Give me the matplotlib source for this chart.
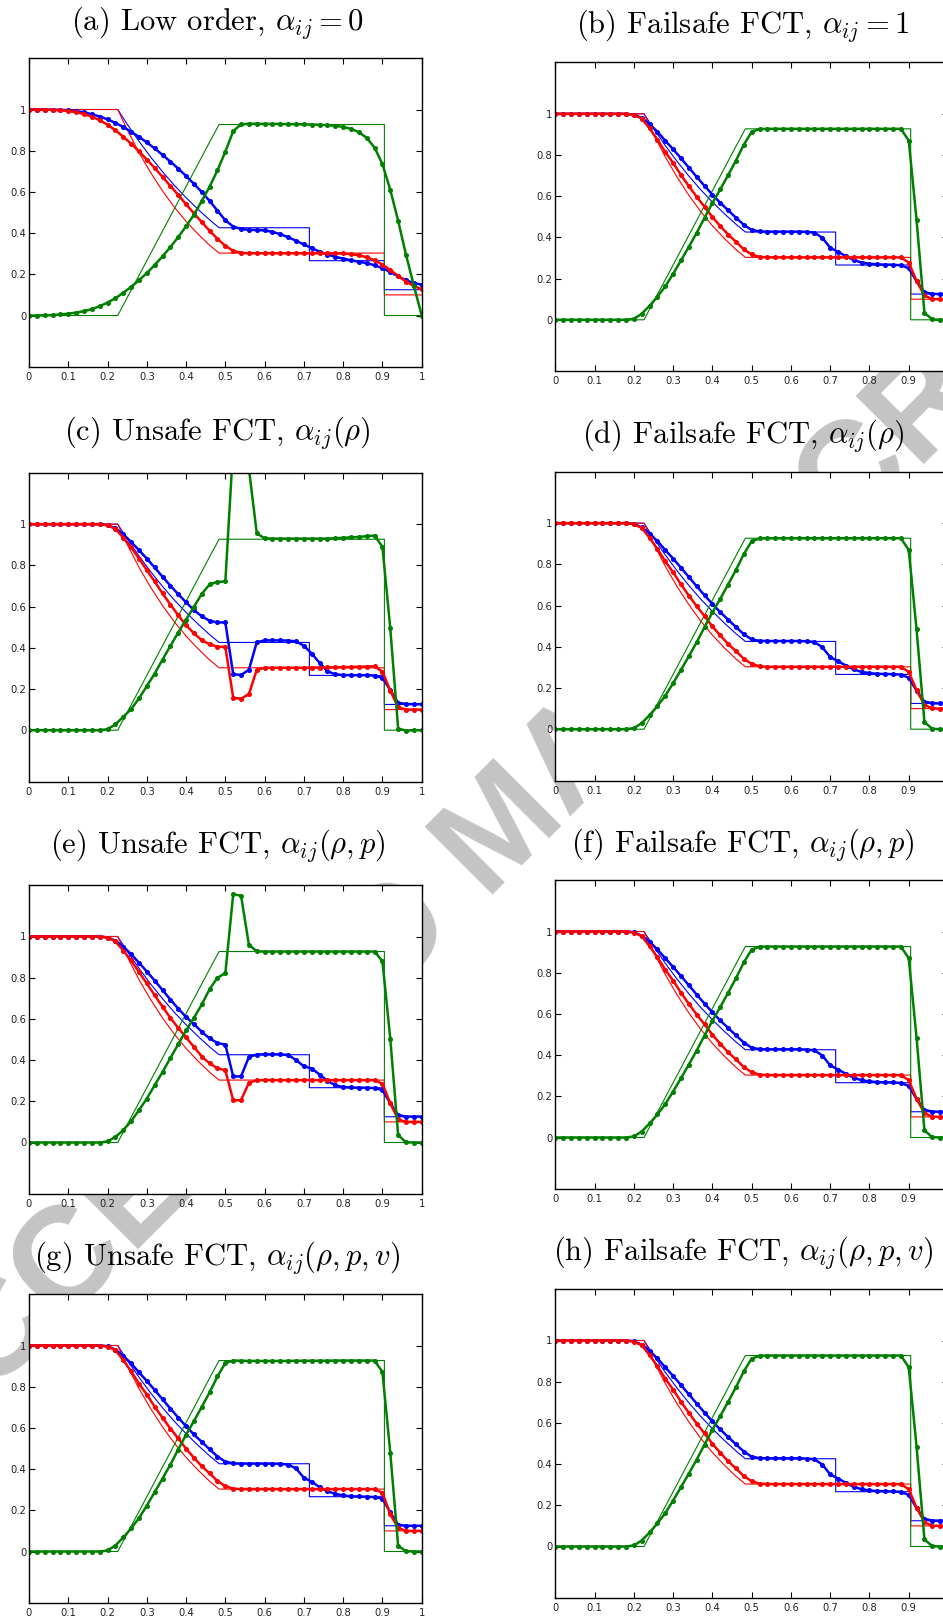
import numpy as np
import matplotlib
matplotlib.use('Agg')
import matplotlib.pyplot as plt

plt.rcParams['mathtext.fontset'] = 'cm'

# grid points of the numerical solutions
x = np.arange(0, 1.0001, 0.02)

# exact Riemann solution (thin lines)
x_ex = [0.0, 0.226, 0.25, 0.28, 0.31, 0.34, 0.37, 0.40, 0.43, 0.46, 0.484,
        0.714, 0.714, 0.905, 0.905, 1.0]
rho_ex = [1.0, 1.0, 0.929, 0.846, 0.769, 0.698, 0.632, 0.572, 0.516, 0.464, 0.426,
          0.426, 0.266, 0.266, 0.125, 0.125]
p_ex = [1.0, 1.0, 0.902, 0.791, 0.693, 0.605, 0.526, 0.457, 0.396, 0.341, 0.303,
        0.303, 0.303, 0.303, 0.100, 0.100]
u_ex = [0.0, 0.0, 0.087, 0.194, 0.302, 0.410, 0.518, 0.626, 0.734, 0.842, 0.927,
        0.927, 0.927, 0.927, 0.0, 0.0]

# (a) low order
rho_a = [1.000, 1.000, 1.000, 0.999, 0.998, 0.996, 0.992, 0.986, 0.977, 0.966,
         0.952, 0.935, 0.915, 0.892, 0.867, 0.840, 0.811, 0.780, 0.747, 0.713,
         0.677, 0.639, 0.599, 0.556, 0.509, 0.462, 0.432, 0.420, 0.416, 0.415,
         0.413, 0.406, 0.395, 0.380, 0.363, 0.345, 0.327, 0.310, 0.296, 0.285,
         0.276, 0.268, 0.261, 0.254, 0.244, 0.230, 0.211, 0.190, 0.171, 0.157,
         0.150]
p_a = [1.000, 1.000, 0.999, 0.998, 0.996, 0.993, 0.987, 0.978, 0.965, 0.948,
       0.926, 0.899, 0.868, 0.834, 0.797, 0.757, 0.716, 0.673, 0.629, 0.585,
       0.540, 0.496, 0.453, 0.411, 0.372, 0.338, 0.314, 0.304, 0.302, 0.302,
       0.302, 0.302, 0.302, 0.302, 0.302, 0.302, 0.302, 0.302, 0.302, 0.302,
       0.301, 0.298, 0.292, 0.283, 0.268, 0.247, 0.221, 0.192, 0.165, 0.143,
       0.128]
u_a = [0.000, 0.000, 0.001, 0.002, 0.005, 0.009, 0.014, 0.021, 0.031, 0.045,
       0.063, 0.084, 0.110, 0.139, 0.171, 0.206, 0.245, 0.287, 0.332, 0.381,
       0.433, 0.489, 0.556, 0.626, 0.705, 0.795, 0.895, 0.928, 0.931, 0.931,
       0.930, 0.930, 0.930, 0.929, 0.929, 0.928, 0.927, 0.926, 0.924, 0.921,
       0.915, 0.906, 0.890, 0.862, 0.815, 0.735, 0.610, 0.460, 0.295, 0.145,
       0.000]

# failsafe FCT (b), (d), (f), (h) look the same
rho_fs = [1.000, 1.000, 1.000, 1.000, 1.000, 1.000, 1.000, 1.000, 1.000, 1.000,
          0.996, 0.980, 0.950, 0.913, 0.870, 0.828, 0.784, 0.739, 0.694, 0.650,
          0.608, 0.568, 0.532, 0.496, 0.461, 0.436, 0.429, 0.428, 0.428, 0.428,
          0.428, 0.428, 0.427, 0.423, 0.398, 0.350, 0.330, 0.309, 0.290, 0.278,
          0.272, 0.269, 0.268, 0.267, 0.265, 0.250, 0.187, 0.134, 0.126, 0.125,
          0.125]
p_fs = [1.000, 1.000, 1.000, 1.000, 1.000, 1.000, 1.000, 1.000, 1.000, 1.000,
        0.995, 0.977, 0.929, 0.875, 0.815, 0.762, 0.703, 0.649, 0.597, 0.549,
        0.499, 0.455, 0.414, 0.379, 0.342, 0.317, 0.305, 0.303, 0.303, 0.303,
        0.303, 0.303, 0.303, 0.303, 0.303, 0.303, 0.303, 0.303, 0.303, 0.303,
        0.303, 0.303, 0.303, 0.303, 0.303, 0.278, 0.188, 0.118, 0.101, 0.100,
        0.100]
u_fs = [0.000, 0.000, 0.000, 0.000, 0.000, 0.000, 0.000, 0.000, 0.000, 0.000,
        0.005, 0.029, 0.068, 0.112, 0.162, 0.223, 0.288, 0.354, 0.422, 0.495,
        0.567, 0.633, 0.702, 0.773, 0.850, 0.912, 0.926, 0.927, 0.927, 0.927,
        0.927, 0.927, 0.927, 0.927, 0.927, 0.927, 0.927, 0.927, 0.927, 0.927,
        0.927, 0.927, 0.927, 0.927, 0.927, 0.870, 0.484, 0.034, 0.002, 0.000,
        0.000]

# (c) unsafe FCT, alpha(rho)
rho_c = [1.000, 1.000, 1.000, 1.000, 1.000, 1.000, 1.000, 1.000, 1.000, 1.000,
         0.995, 0.980, 0.951, 0.914, 0.874, 0.833, 0.790, 0.745, 0.702, 0.660,
         0.621, 0.583, 0.553, 0.531, 0.523, 0.523, 0.272, 0.268, 0.293, 0.427,
         0.436, 0.436, 0.436, 0.435, 0.431, 0.410, 0.372, 0.327, 0.286, 0.271,
         0.268, 0.267, 0.267, 0.267, 0.265, 0.254, 0.194, 0.133, 0.127, 0.126,
         0.126]
p_c = [1.000, 1.000, 1.000, 1.000, 1.000, 1.000, 1.000, 1.000, 1.000, 1.000,
       0.995, 0.977, 0.935, 0.888, 0.833, 0.777, 0.722, 0.664, 0.610, 0.558,
       0.510, 0.470, 0.437, 0.417, 0.405, 0.405, 0.157, 0.153, 0.175, 0.293,
       0.303, 0.303, 0.303, 0.303, 0.303, 0.303, 0.304, 0.304, 0.305, 0.305,
       0.306, 0.307, 0.308, 0.309, 0.310, 0.284, 0.192, 0.112, 0.100, 0.100,
       0.100]
u_c = [0.000, 0.000, 0.000, 0.000, 0.000, 0.000, 0.000, 0.000, 0.000, 0.000,
       0.005, 0.028, 0.065, 0.102, 0.154, 0.214, 0.275, 0.343, 0.409, 0.474,
       0.537, 0.599, 0.662, 0.708, 0.720, 0.722, 1.380, 1.420, 1.270, 0.956,
       0.931, 0.930, 0.930, 0.930, 0.930, 0.930, 0.930, 0.930, 0.930, 0.932,
       0.934, 0.936, 0.938, 0.942, 0.945, 0.890, 0.494, 0.008, -0.002, 0.000,
       0.000]

# (e) unsafe FCT, alpha(rho, p)
rho_e = [1.000, 1.000, 1.000, 1.000, 1.000, 1.000, 1.000, 1.000, 1.000, 1.000,
         0.995, 0.980, 0.951, 0.914, 0.873, 0.830, 0.786, 0.740, 0.694, 0.650,
         0.609, 0.575, 0.537, 0.505, 0.483, 0.475, 0.321, 0.321, 0.415, 0.427,
         0.428, 0.428, 0.428, 0.425, 0.400, 0.370, 0.359, 0.330, 0.299, 0.278,
         0.269, 0.267, 0.266, 0.266, 0.264, 0.255, 0.190, 0.133, 0.126, 0.126,
         0.126]
p_e = [1.000, 1.000, 1.000, 1.000, 1.000, 1.000, 1.000, 1.000, 1.000, 1.000,
       0.995, 0.976, 0.932, 0.884, 0.828, 0.772, 0.715, 0.659, 0.605, 0.556,
       0.510, 0.464, 0.417, 0.384, 0.360, 0.351, 0.205, 0.205, 0.290, 0.302,
       0.303, 0.303, 0.303, 0.303, 0.303, 0.303, 0.303, 0.303, 0.303, 0.303,
       0.303, 0.303, 0.303, 0.303, 0.303, 0.285, 0.190, 0.112, 0.100, 0.100,
       0.100]
u_e = [0.000, 0.000, 0.000, 0.000, 0.000, 0.000, 0.000, 0.000, 0.000, 0.000,
       0.005, 0.027, 0.060, 0.103, 0.157, 0.213, 0.278, 0.342, 0.410, 0.477,
       0.544, 0.605, 0.670, 0.745, 0.800, 0.822, 1.205, 1.198, 0.960, 0.928,
       0.927, 0.927, 0.927, 0.927, 0.927, 0.927, 0.927, 0.927, 0.927, 0.927,
       0.927, 0.927, 0.927, 0.927, 0.927, 0.880, 0.504, 0.036, 0.001, 0.000,
       0.000]

# (g) unsafe FCT, alpha(rho, p, v)
rho_g = [1.000, 1.000, 1.000, 1.000, 1.000, 1.000, 1.000, 1.000, 1.000, 1.000,
         0.996, 0.980, 0.950, 0.913, 0.870, 0.828, 0.784, 0.739, 0.694, 0.650,
         0.608, 0.568, 0.532, 0.496, 0.461, 0.436, 0.428, 0.427, 0.427, 0.427,
         0.427, 0.427, 0.426, 0.422, 0.403, 0.358, 0.339, 0.312, 0.292, 0.280,
         0.272, 0.268, 0.267, 0.266, 0.264, 0.257, 0.190, 0.130, 0.125, 0.125,
         0.125]
p_g = [1.000, 1.000, 1.000, 1.000, 1.000, 1.000, 1.000, 1.000, 1.000, 1.000,
       0.995, 0.977, 0.929, 0.875, 0.815, 0.762, 0.703, 0.649, 0.597, 0.549,
       0.499, 0.455, 0.414, 0.379, 0.342, 0.317, 0.305, 0.303, 0.303, 0.303,
       0.303, 0.303, 0.303, 0.303, 0.303, 0.303, 0.303, 0.303, 0.303, 0.303,
       0.303, 0.303, 0.303, 0.303, 0.303, 0.285, 0.180, 0.115, 0.100, 0.100,
       0.100]
u_g = [0.000, 0.000, 0.000, 0.000, 0.000, 0.000, 0.000, 0.000, 0.000, 0.000,
       0.005, 0.029, 0.068, 0.112, 0.162, 0.223, 0.288, 0.354, 0.422, 0.495,
       0.567, 0.633, 0.702, 0.773, 0.850, 0.915, 0.927, 0.926, 0.925, 0.925,
       0.925, 0.925, 0.925, 0.925, 0.926, 0.926, 0.926, 0.926, 0.926, 0.927,
       0.927, 0.927, 0.927, 0.927, 0.927, 0.871, 0.479, 0.027, 0.002, 0.000,
       0.000]

titles = [r'(a) Low order, $\alpha_{ij} = 0$',
          r'(b) Failsafe FCT, $\alpha_{ij} = 1$',
          r'(c) Unsafe FCT, $\alpha_{ij}(\rho)$',
          r'(d) Failsafe FCT, $\alpha_{ij}(\rho)$',
          r'(e) Unsafe FCT, $\alpha_{ij}(\rho,p)$',
          r'(f) Failsafe FCT, $\alpha_{ij}(\rho,p)$',
          r'(g) Unsafe FCT, $\alpha_{ij}(\rho,p,v)$',
          r'(h) Failsafe FCT, $\alpha_{ij}(\rho,p,v)$']
panels = [(rho_a, p_a, u_a), (rho_fs, p_fs, u_fs),
          (rho_c, p_c, u_c), (rho_fs, p_fs, u_fs),
          (rho_e, p_e, u_e), (rho_fs, p_fs, u_fs),
          (rho_g, p_g, u_g), (rho_fs, p_fs, u_fs)]
xlabels = ['0', '0.1', '0.2', '0.3', '0.4', '0.5', '0.6', '0.7', '0.8', '0.9', '1']
ylabels = ['0', '0.2', '0.4', '0.6', '0.8', '1']

# pixel layout of the original page
W, H = 943, 1616
ax_w, ax_h = 392.7, 309
ax_left = [29, 555.3]
ax_top = [58, 62.3, 472.7, 471.7, 885, 880, 1294, 1289]
title_x = [217.5, 743]
title_base = [30, 33, 440, 443, 853, 852, 1265, 1260]

blue, red, green = '#0000ff', '#ff0000', '#008000'

fig = plt.figure(figsize=(W / 100, H / 100), dpi=100)

# watermark behind the axes
fig.text(505 / W, 1 - 832 / H, 'ACCEPTED MANUSCRIPT', fontsize=100,
         fontweight='bold', family='Liberation Sans', color='#c4c4c4',
         rotation=45, rotation_mode='anchor', ha='center', va='center',
         zorder=-5)

for k in range(8):
    col = k % 2
    l = ax_left[col]
    t = ax_top[k]
    ax = fig.add_axes([l / W, 1 - (t + ax_h) / H, ax_w / W, ax_h / H])
    ax.set_facecolor('white')
    rho, p, u = panels[k]

    ax.plot(x_ex, rho_ex, color=blue, lw=0.8)
    ax.plot(x_ex, p_ex, color=red, lw=0.8)
    ax.plot(x_ex, u_ex, color=green, lw=0.8)
    ax.plot(x, rho, '-o', color=blue, lw=1.8, ms=2.6)
    ax.plot(x, p, '-o', color=red, lw=1.8, ms=2.6)
    ax.plot(x, u, '-o', color=green, lw=1.8, ms=2.6)

    ax.set_xlim(0, 1)
    ax.set_ylim(-0.25, 1.25)
    ax.set_xticks(np.arange(0, 1.01, 0.1))
    # the right column is cut at the page edge, its last label falls off
    ax.set_xticklabels(xlabels if col == 0 else xlabels[:-1] + [''])
    ax.set_yticks([0, 0.2, 0.4, 0.6, 0.8, 1.0])
    ax.set_yticklabels(ylabels)
    ax.tick_params(direction='in', length=4, width=0.8, top=True, right=True,
                   labelsize=7.2, labelcolor='#222222')
    ax.tick_params(axis='y', pad=2)
    for s in ax.spines.values():
        s.set_linewidth(1.0)

    fig.text(title_x[col] / W, 1 - title_base[k] / H, titles[k],
             ha='center', va='baseline', fontsize=22, family='cmr10')

fig.savefig('out.png', dpi=100)
